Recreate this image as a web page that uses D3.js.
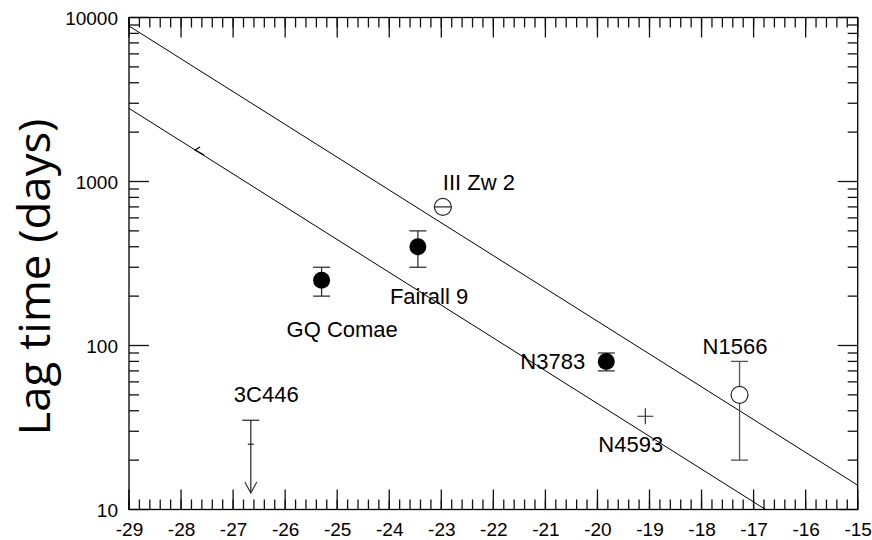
<!DOCTYPE html>
<html lang="en">
<head>
    <title>Lag time vs magnitude</title>
    <script src="https://d3js.org/d3.v7.min.js"></script>
    <style>
        body { margin: 0; background: white; }
        svg text { font-family: "Liberation Sans", Arial, sans-serif; fill: black; }
    </style>
</head>
<body>
    <svg id="chart"></svg>

    <script>
        // data
        var names = ["GQ Comae", "Fairall 9", "III Zw 2", "N3783", "N4593", "N1566", "3C446"];
        var mags = [-25.3, -23.45, -22.97, -19.83, -19.08, -17.27, -26.66];
        var lags = [250, 400, 700, 80, 37, 50, 25];
        var lagLow = [200, 300, null, 70, null, 20, 12.6];
        var lagHigh = [300, 500, null, 90, null, 80, 35];
        var kinds = ["filled", "filled", "openbar", "filled", "plus", "open", "limit"];

        // two fit lines: log10(lag) at M = -29, common slope (dex per mag)
        var fitStart = [3.948, 3.446];
        var fitSlope = -0.2;
        var arrowMag = -27.73;   // small arrow marker on lower line

        var xTickValues = [-29, -28, -27, -26, -25, -24, -23, -22, -21, -20, -19, -18, -17, -16, -15];
        var xTickLabels = ["-29", "-28", "-27", "-26", "-25", "-24", "-23", "-22", "-21", "-20", "-19", "-18", "-17", "-16", "-15"];
        var yTickValues = [10, 100, 1000, 10000];
        var yTickLabels = ["10", "100", "1000", "10000"];

        // label offsets in pixels from the point (layout only)
        var labelOffsets = [[-35, 57], [-28, 57], [0, -17], [-86, 8], [-47, 36], [-37, -41], [-17, -42]];

        var width = 872;
        var height = 540;
        var plot = { left: 129, right: 857.7, top: 17.5, bottom: 509.5 };

        var x = d3.scaleLinear().domain([-29, -15]).range([plot.left, plot.right]);
        var y = d3.scaleLog().domain([10, 10000]).range([plot.bottom, plot.top]);

        var svg = d3.select("#chart")
            .attr("width", width)
            .attr("height", height);

        svg.append("clipPath").attr("id", "clip")
            .append("rect")
            .attr("x", plot.left).attr("y", plot.top)
            .attr("width", plot.right - plot.left)
            .attr("height", plot.bottom - plot.top);

        // tick positions
        var xMinor = d3.range(0, 71).map(function (i) { return -29 + i * 0.2; });
        var yMinor = [];
        [10, 100, 1000].forEach(function (d) {
            for (var k = 2; k <= 9; k++) yMinor.push(d * k);
        });

        var ticks = svg.append("g").attr("stroke", "#111").attr("stroke-width", 1.3);
        function xTicks(vals, len) {
            ticks.selectAll(null).data(vals).enter().append("line")
                .attr("x1", function (d) { return x(d); }).attr("x2", function (d) { return x(d); })
                .attr("y1", plot.bottom).attr("y2", plot.bottom - len);
            ticks.selectAll(null).data(vals).enter().append("line")
                .attr("x1", function (d) { return x(d); }).attr("x2", function (d) { return x(d); })
                .attr("y1", plot.top).attr("y2", plot.top + len);
        }
        function yTicks(vals, len) {
            ticks.selectAll(null).data(vals).enter().append("line")
                .attr("y1", function (d) { return y(d); }).attr("y2", function (d) { return y(d); })
                .attr("x1", plot.left).attr("x2", plot.left + len);
            ticks.selectAll(null).data(vals).enter().append("line")
                .attr("y1", function (d) { return y(d); }).attr("y2", function (d) { return y(d); })
                .attr("x1", plot.right).attr("x2", plot.right - len);
        }
        xTicks(xMinor, 10);
        xTicks(xTickValues, 20);
        yTicks(yMinor, 10);
        yTicks(yTickValues, 20);

        // tick labels via axes
        function styleAxis(g) {
            g.select(".domain").remove();
            g.selectAll(".tick line").remove();
            g.selectAll("text").style("font-size", "19px").attr("fill", "black");
        }
        svg.append("g").attr("transform", "translate(0," + plot.bottom + ")")
            .call(d3.axisBottom(x).tickValues(xTickValues).tickSize(0).tickPadding(13.5)
                .tickFormat(function (d, i) { return xTickLabels[i]; }))
            .call(styleAxis);
        svg.append("g").attr("transform", "translate(" + plot.left + ",0)")
            .call(d3.axisLeft(y).tickValues(yTickValues).tickSize(0).tickPadding(11)
                .tickFormat(function (d, i) { return yTickLabels[i]; }))
            .call(styleAxis)
            .selectAll("text").attr("dy", "0.37em");

        // frame
        svg.append("rect")
            .attr("x", plot.left).attr("y", plot.top)
            .attr("width", plot.right - plot.left)
            .attr("height", plot.bottom - plot.top)
            .attr("fill", "none").attr("stroke", "black").attr("stroke-width", 1.3);

        // fit lines
        var lineGen = d3.line()
            .x(function (d) { return x(d[0]); })
            .y(function (d) { return y(d[1]); });
        fitStart.forEach(function (c) {
            var pts = [-29, -15].map(function (m) {
                return [m, Math.pow(10, c + fitSlope * (m + 29))];
            });
            svg.append("path")
                .attr("d", lineGen(pts))
                .attr("clip-path", "url(#clip)")
                .attr("fill", "none").attr("stroke", "black").attr("stroke-width", 1);
        });

        // arrow marker on the lower line
        var ax = x(arrowMag);
        var ay = y(Math.pow(10, fitStart[1] + fitSlope * (arrowMag + 29)));
        svg.append("path")
            .attr("d", "M" + (ax + 9) + "," + (ay + 5) + "L" + ax + "," + ay + "L" + (ax + 5) + "," + (ay - 3))
            .attr("fill", "none").attr("stroke", "black").attr("stroke-width", 1.3);

        // data points
        var r = 8.5;
        var cap = 8.5;
        var errColor = "#333";
        mags.forEach(function (m, i) {
            var cx = x(m), cy = y(lags[i]);
            var g = svg.append("g");
            if (lagHigh[i] !== null) {
                var yHi = y(lagHigh[i]);
                var yLo = y(lagLow[i]);
                var c = kinds[i] === "open" ? "#555" : errColor;
                g.append("line").attr("x1", cx).attr("x2", cx).attr("y1", yHi).attr("y2", yLo)
                    .attr("stroke", c).attr("stroke-width", 1.3);
                g.append("line").attr("x1", cx - cap).attr("x2", cx + cap).attr("y1", yHi).attr("y2", yHi)
                    .attr("stroke", c).attr("stroke-width", 1.3);
                if (kinds[i] === "limit") {
                    g.append("path")
                        .attr("d", "M" + (cx - 6) + "," + (yLo - 11) + "L" + cx + "," + yLo + "L" + (cx + 6) + "," + (yLo - 11))
                        .attr("fill", "none").attr("stroke", c).attr("stroke-width", 1.2);
                } else {
                    g.append("line").attr("x1", cx - cap).attr("x2", cx + cap).attr("y1", yLo).attr("y2", yLo)
                        .attr("stroke", c).attr("stroke-width", 1.3);
                }
            }
            if (kinds[i] === "filled") {
                g.append("circle").attr("cx", cx).attr("cy", cy).attr("r", r).attr("fill", "black");
            } else if (kinds[i] === "open" || kinds[i] === "openbar") {
                g.append("circle").attr("cx", cx).attr("cy", cy).attr("r", r)
                    .attr("fill", "white").attr("stroke", "#222").attr("stroke-width", 1.2);
                if (kinds[i] === "openbar") {
                    g.append("line").attr("x1", cx - r).attr("x2", cx + r).attr("y1", cy).attr("y2", cy)
                        .attr("stroke", "#222").attr("stroke-width", 1.2);
                }
            } else if (kinds[i] === "plus") {
                g.append("path").attr("d", "M" + (cx - 8) + "," + cy + "H" + (cx + 8) + "M" + cx + "," + (cy - 8) + "V" + (cy + 8))
                    .attr("stroke", "#222").attr("stroke-width", 1.1);
            } else if (kinds[i] === "limit") {
                g.append("line").attr("x1", cx - 3).attr("x2", cx + 3).attr("y1", cy).attr("y2", cy)
                    .attr("stroke", "#222").attr("stroke-width", 1.2);
            }
            g.append("text")
                .attr("x", cx + labelOffsets[i][0])
                .attr("y", cy + labelOffsets[i][1])
                .style("font-size", "22px")
                .text(names[i]);
        });

        // y axis title
        svg.append("text")
            .attr("transform", "translate(50,277) rotate(-90)")
            .attr("text-anchor", "middle")
            .attr("textLength", 317)
            .attr("lengthAdjust", "spacingAndGlyphs")
            .style("font-family", "'Open Sans', sans-serif")
            .style("font-size", "43px")
            .text("Lag time (days)");
    </script>
</body>
</html>
